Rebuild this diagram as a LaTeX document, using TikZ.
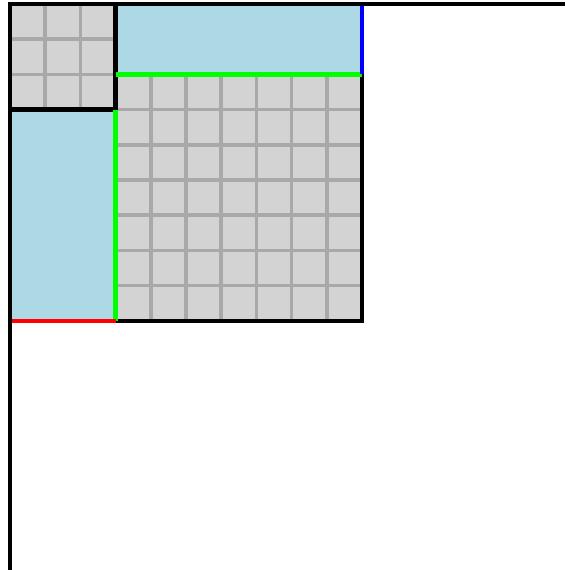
\documentclass[tikz,border=0pt]{standalone}
\definecolor{cellgray}{HTML}{D3D3D3}
\definecolor{gridgray}{HTML}{A9A9A9}
\definecolor{paleblue}{HTML}{ADD8E6}
\newcommand{\cellblock}[2]{
\fill[cellgray] #1 rectangle #2;
\draw[gridgray] #1 grid #2;
}
\tikzset{edge/.style={line width=3.4pt}}

\begin{document}
\begin{tikzpicture}[line width=3pt]
\useasboundingbox (-0.284,-7.08) rectangle (15.77,9.114);
\fill[paleblue] (3,7) rectangle (10,9);
\fill[paleblue] (0,0) rectangle (3,6);
\cellblock{(0,6)}{(3,9)}
\cellblock{(3,0)}{(10,7)}
\draw[edge,black] (3,9) -- (3,6) -- (0,6);
\draw[edge,black] (3,0) -- (10,0) -- (10,7);
\draw[edge,green] (3,7) -- (10,7);
\draw[edge,green] (3,6) -- (3,0);
\draw[edge,blue] (10,9) -- (10,7);
\draw[edge,red] (0,0) -- (3,0);
\draw[edge,black,line width=3pt] (0,-7.08) -- (0,9) -- (15.77,9);
\end{tikzpicture}
\end{document}
